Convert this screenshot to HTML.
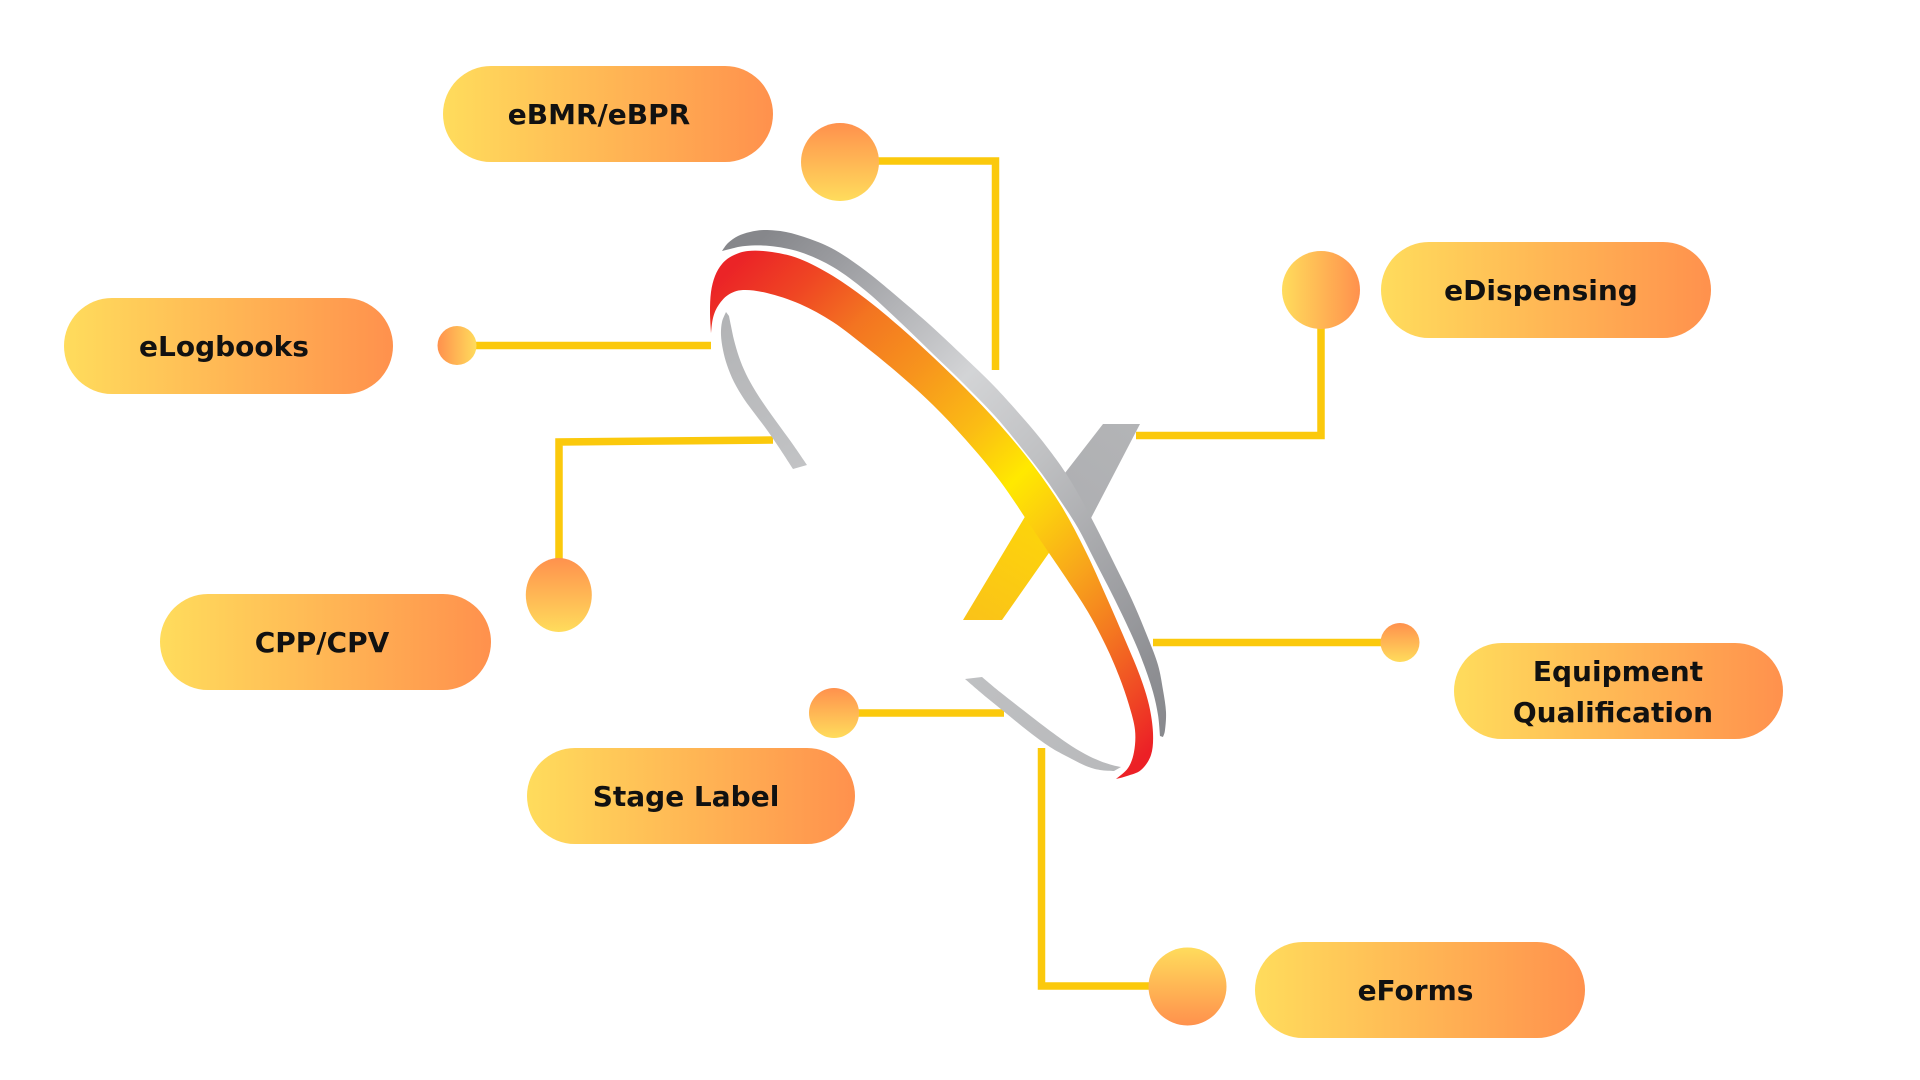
<!DOCTYPE html>
<html>
<head>
<meta charset="utf-8">
<style>
  html,body{margin:0;padding:0;background:#ffffff;}
  body{width:1920px;height:1080px;overflow:hidden;}
  svg{display:block;}
  .lbl{font-family:"DejaVu Sans","Liberation Sans",sans-serif;font-weight:bold;font-size:28px;fill:#111111;}
</style>
</head>
<body>
<svg width="1920" height="1080" viewBox="0 0 1920 1080" xmlns="http://www.w3.org/2000/svg">
  <defs>
    <linearGradient id="pill" x1="0" y1="0" x2="1" y2="0">
      <stop offset="0" stop-color="#FFDC5C"/>
      <stop offset="1" stop-color="#FF914D"/>
    </linearGradient>
    <linearGradient id="dotHr" x1="0" y1="0" x2="1" y2="0">
      <stop offset="0" stop-color="#FF914D"/>
      <stop offset="1" stop-color="#FFDC5C"/>
    </linearGradient>
    <linearGradient id="dotV" x1="0" y1="0" x2="0" y2="1">
      <stop offset="0" stop-color="#FF914D"/>
      <stop offset="1" stop-color="#FFDC5C"/>
    </linearGradient>
    <linearGradient id="dotVr" x1="0" y1="0" x2="0" y2="1">
      <stop offset="0" stop-color="#FFDC5C"/>
      <stop offset="1" stop-color="#FF914D"/>
    </linearGradient>
    <linearGradient id="redG" gradientUnits="userSpaceOnUse" x1="500" y1="500" x2="950" y2="950">
      <stop offset="0" stop-color="#EB2427"/>
      <stop offset="0.1" stop-color="#EF4623"/>
      <stop offset="0.2" stop-color="#F37421"/>
      <stop offset="0.32" stop-color="#F7941D"/>
      <stop offset="0.45" stop-color="#FBBD14"/>
      <stop offset="0.55" stop-color="#FFE900"/>
      <stop offset="0.62" stop-color="#FCCF0E"/>
      <stop offset="0.72" stop-color="#F8A61B"/>
      <stop offset="0.82" stop-color="#F47A20"/>
      <stop offset="0.91" stop-color="#F04E24"/>
      <stop offset="1" stop-color="#EC2026"/>
    </linearGradient>
    <linearGradient id="grayG" gradientUnits="userSpaceOnUse" x1="500" y1="500" x2="950" y2="950">
      <stop offset="0" stop-color="#86878B"/>
      <stop offset="0.11" stop-color="#9B9CA0"/>
      <stop offset="0.38" stop-color="#D3D4D6"/>
      <stop offset="0.55" stop-color="#C0C1C3"/>
      <stop offset="0.72" stop-color="#A7A8AB"/>
      <stop offset="0.9" stop-color="#8F9094"/>
      <stop offset="1" stop-color="#88898D"/>
    </linearGradient>
    <linearGradient id="yArm" gradientUnits="userSpaceOnUse" x1="1040" y1="510" x2="975" y2="620">
      <stop offset="0" stop-color="#FDD60A"/>
      <stop offset="1" stop-color="#FAC318"/>
    </linearGradient>
    <linearGradient id="gArm" gradientUnits="userSpaceOnUse" x1="1130" y1="424" x2="1070" y2="510">
      <stop offset="0" stop-color="#B3B4B6"/>
      <stop offset="1" stop-color="#AEAFB2"/>
    </linearGradient>
    <linearGradient id="gInner" gradientUnits="userSpaceOnUse" x1="725" y1="312" x2="800" y2="468">
      <stop offset="0" stop-color="#B2B3B5"/>
      <stop offset="1" stop-color="#C2C3C5"/>
    </linearGradient>
    <linearGradient id="gLower" gradientUnits="userSpaceOnUse" x1="965" y1="677" x2="1120" y2="770">
      <stop offset="0" stop-color="#BFC0C2"/>
      <stop offset="1" stop-color="#B8B9BB"/>
    </linearGradient>
  </defs>

  <!-- connector lines -->
  <g fill="none" stroke="#FBC90C" stroke-width="7.5" stroke-linejoin="miter" stroke-linecap="butt">
    <polyline points="850,161 995.5,161 995.5,370"/>
    <polyline points="460,345.5 711,345.5"/>
    <polyline points="559,580 559,442 773,440"/>
    <polyline points="840,713 1004,713"/>
    <polyline points="1321,300 1321,435.5 1136,435.5"/>
    <polyline points="1153,642.5 1395,642.5"/>
    <polyline points="1041.5,748 1041.5,986 1170,986"/>
  </g>

  <!-- logo: X arms -->
  <polygon fill="url(#gArm)" points="1103,424 1140,424 1090,520 1058,482"/>
  <polygon fill="url(#yArm)" points="963,620 1002,620 1058,540 1032,505"/>

  <!-- inner left gray arc -->
  <path id="pInner" fill="url(#gInner)" d="M726,312 L722,322 L721,335 L723,350 L727,365 L734,382 L744,399 L755,414 L767,430 L780,449 L793,469 L807,465 L794,446 L781,428 L768,410 L756,392 L746,374 L739,357 L734,340 L731,326 L729,316 Z"/>

  <!-- lower gray arc -->
  <path id="pLower" fill="url(#gLower)" d="M982,677 L1000,692 L1023,710 L1045,727 L1067,743 L1085,754 L1100,761 L1112,765 L1121,767 L1114,771 L1100,770 L1086,766 L1068,757 L1050,747 L1028,731 L1007,714 L986,697 L965,679 Z"/>

  <!-- outer gray band -->
  <path id="pGray" fill="url(#grayG)" d="M722,251 L728,243 L738,236 L750,232 L765,230 L786,232 L810,239 L835,250 L866,271 L900,299 L930,325 L960,353 L995,387 L1030,426 L1050,451 L1065,472 L1080,497 L1096,527 L1112,559 L1132,600 L1148,638 L1158,665 L1163,690 L1166,712 L1165,730 L1163,737 L1160,736 L1158,715 L1153,692 L1144,665 L1133,638 L1115,600 L1095,561 L1078,528 L1060,500 L1042,474 L1020,446 L995,416 L960,380 L930,351 L900,322 L866,291 L833,267 L800,252 L770,246 L745,246 L730,249 Z"/>

  <!-- red/orange/yellow band -->
  <path id="pRed" fill="url(#redG)" d="M711,333 L710,312 L711,292 L715,276 L722,264 L732,256 L748,251 L772,252 L800,259 L833,276 L866,299 L900,327 L933,357 L966,389 L1000,425 L1033,465 L1062,507 L1086,552 L1106,596 L1126,642 L1140,676 L1149,705 L1153,733 L1151,755 L1141,770 L1127,776 L1116,779 L1128,768 L1134,752 L1135,730 L1129,705 L1119,676 L1106,646 L1088,612 L1066,578 L1049,553 L1030,525 L1000,481 L966,440 L933,405 L900,375 L866,347 L833,322 L800,304 L767,293 L743,290 L728,295 L718,306 L713,318 Z"/>

  <!-- dots -->
  <circle cx="840" cy="162" r="39" fill="url(#dotV)"/>
  <circle cx="457" cy="345.5" r="19.5" fill="url(#dotHr)"/>
  <ellipse cx="558.8" cy="595" rx="33" ry="37" fill="url(#dotV)"/>
  <circle cx="834" cy="713" r="25" fill="url(#dotV)"/>
  <circle cx="1321" cy="290" r="39" fill="url(#pill)"/>
  <circle cx="1400" cy="642.5" r="19.5" fill="url(#dotV)"/>
  <circle cx="1187.5" cy="986.5" r="39" fill="url(#dotVr)"/>

  <!-- pills -->
  <rect x="443" y="66" width="330" height="96" rx="48" ry="48" fill="url(#pill)"/>
  <rect x="64" y="298" width="329" height="96" rx="48" ry="48" fill="url(#pill)"/>
  <rect x="160" y="594" width="331" height="96" rx="48" ry="48" fill="url(#pill)"/>
  <rect x="527" y="748" width="328" height="96" rx="48" ry="48" fill="url(#pill)"/>
  <rect x="1381" y="242" width="330" height="96" rx="48" ry="48" fill="url(#pill)"/>
  <rect x="1454" y="643" width="329" height="96" rx="48" ry="48" fill="url(#pill)"/>
  <rect x="1255" y="942" width="330" height="96" rx="48" ry="48" fill="url(#pill)"/>

  <!-- labels -->
  <text class="lbl" x="599" y="124" text-anchor="middle">eBMR/eBPR</text>
  <text class="lbl" x="224" y="356" text-anchor="middle">eLogbooks</text>
  <text class="lbl" x="322" y="652" text-anchor="middle">CPP/CPV</text>
  <text class="lbl" x="686" y="806" text-anchor="middle">Stage Label</text>
  <text class="lbl" x="1541" y="300" text-anchor="middle">eDispensing</text>
  <text class="lbl" x="1618" y="681" text-anchor="middle">Equipment</text>
  <text class="lbl" x="1613" y="722" text-anchor="middle">Qualification</text>
  <text class="lbl" x="1415.5" y="1000" text-anchor="middle">eForms</text>
</svg>
<script>
(function(){
  function f(n){return Math.round(n*100)/100;}
  function cr(pts){
    var d='';
    for(var i=0;i<pts.length-1;i++){
      var p0=pts[i-1]||pts[i], p1=pts[i], p2=pts[i+1], p3=pts[i+2]||pts[i+1];
      var c1x=p1[0]+(p2[0]-p0[0])/6, c1y=p1[1]+(p2[1]-p0[1])/6;
      var c2x=p2[0]-(p3[0]-p1[0])/6, c2y=p2[1]-(p3[1]-p1[1])/6;
      d+=' C'+f(c1x)+','+f(c1y)+' '+f(c2x)+','+f(c2y)+' '+p2[0]+','+p2[1];
    }
    return d;
  }
  function shape(a,b){
    return 'M'+a[0][0]+','+a[0][1]+cr(a)+' L'+b[0][0]+','+b[0][1]+cr(b)+' Z';
  }
  function set(id,a,b){var el=document.getElementById(id); if(el) el.setAttribute('d',shape(a,b));}
  try{
    set('pGray',
      [[722,251],[728,243],[738,236],[750,232],[765,230],[786,232],[810,239],[835,250],[866,271],[900,299],[930,325],[960,353],[995,387],[1030,426],[1050,451],[1065,472],[1080,497],[1096,527],[1112,559],[1132,600],[1148,638],[1158,665],[1163,690],[1166,712],[1165,730],[1163,737]],
      [[1160,736],[1158,715],[1153,692],[1144,665],[1133,638],[1115,600],[1095,561],[1078,528],[1060,500],[1042,474],[1020,446],[995,416],[960,380],[930,351],[900,322],[866,291],[833,267],[800,252],[770,246],[745,246],[730,249]]);
    set('pRed',
      [[711,333],[710,312],[711,292],[715,276],[722,264],[732,256],[748,251],[772,252],[800,259],[833,276],[866,299],[900,327],[933,357],[966,389],[1000,425],[1033,465],[1062,507],[1086,552],[1106,596],[1126,642],[1140,676],[1149,705],[1153,733],[1151,755],[1141,770],[1127,776],[1116,779]],
      [[1116,779],[1128,768],[1134,752],[1135,730],[1129,705],[1119,676],[1106,646],[1088,612],[1066,578],[1049,553],[1030,525],[1000,481],[966,440],[933,405],[900,375],[866,347],[833,322],[800,304],[767,293],[743,290],[728,295],[718,306],[713,318],[711,333]]);
    set('pInner',
      [[726,312],[722,322],[721,335],[723,350],[727,365],[734,382],[744,399],[755,414],[767,430],[780,449],[793,469]],
      [[807,465],[794,446],[781,428],[768,410],[756,392],[746,374],[739,357],[734,340],[731,326],[729,316]]);
    set('pLower',
      [[982,677],[1000,692],[1023,710],[1045,727],[1067,743],[1085,754],[1100,761],[1112,765],[1121,767]],
      [[1114,771],[1100,770],[1086,766],[1068,757],[1050,747],[1028,731],[1007,714],[986,697],[965,679]]);
  }catch(e){}
})();
</script>
</body>
</html>
